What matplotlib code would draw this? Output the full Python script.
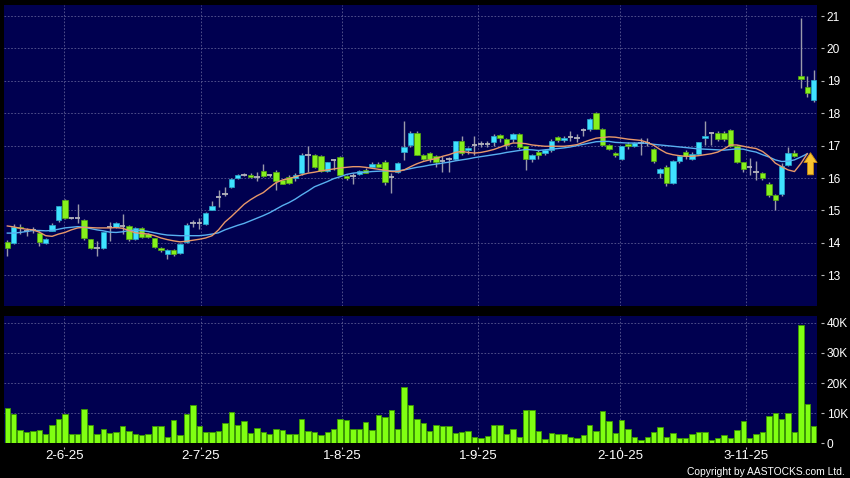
import numpy as np
import matplotlib
matplotlib.use('Agg')
import matplotlib.pyplot as plt

plt.rcParams['font.family'] = ['Liberation Sans', 'DejaVu Sans']

# daily prices (open, high, low, close)
opens = [14.01, 13.99, 14.50, 14.38, 14.40, 14.29, 13.99, 14.38, 14.69, 15.33,
         14.77, 14.77, 14.71, 14.11, 13.85, 13.83, 14.48, 14.48, 14.53, 14.53,
         14.11, 14.46, 14.27, 14.14, 13.85, 13.65, 13.77, 13.70, 14.04, 14.60,
         14.60, 14.58, 15.02, 15.42, 15.52, 15.71, 16.01, 16.10, 16.10, 16.04,
         16.23, 16.08, 16.20, 15.94, 16.02, 16.01, 16.15, 16.70, 16.70, 16.67,
         16.23, 16.56, 16.65, 16.06, 16.05, 16.13, 16.25, 16.35, 16.44, 16.48,
         16.04, 16.20, 16.79, 17.03, 17.38, 16.72, 16.77, 16.67, 16.54, 16.60,
         16.60, 17.14, 16.88, 17.01, 17.04, 17.05, 17.12, 17.32, 17.21, 17.21,
         17.36, 16.98, 16.60, 16.80, 16.77, 16.88, 17.26, 17.17, 17.26, 17.24,
         17.47, 17.52, 18.00, 17.52, 17.03, 16.77, 16.58, 17.06, 17.00, 17.08,
         17.08, 16.90, 16.15, 16.35, 15.85, 16.51, 16.79, 16.60, 16.75, 17.22,
         17.40, 17.40, 17.40, 17.48, 17.00, 16.48, 16.35, 16.20, 16.17, 15.81,
         15.47, 15.50, 16.41, 16.77, 19.15, 18.80, 18.41]
highs = [14.10, 14.58, 14.58, 14.46, 14.48, 14.38, 14.15, 14.60, 15.15, 15.36,
         14.80, 15.21, 14.75, 14.12, 14.06, 14.34, 14.64, 14.65, 14.90, 14.56,
         14.50, 14.50, 14.30, 14.16, 13.88, 13.80, 13.80, 14.00, 14.60, 14.70,
         14.78, 14.95, 15.30, 15.62, 15.73, 16.00, 16.12, 16.15, 16.14, 16.20,
         16.44, 16.12, 16.25, 15.96, 16.08, 16.15, 16.77, 17.00, 16.75, 16.70,
         16.50, 16.58, 16.67, 16.08, 16.15, 16.26, 16.30, 16.50, 16.50, 16.55,
         16.15, 16.50, 17.76, 17.45, 17.45, 16.75, 16.80, 16.72, 16.67, 16.65,
         17.15, 17.30, 16.95, 17.30, 17.15, 17.15, 17.35, 17.35, 17.25, 17.40,
         17.38, 17.00, 16.75, 16.85, 16.90, 17.20, 17.30, 17.30, 17.45, 17.35,
         17.55, 17.85, 18.05, 17.55, 17.05, 16.80, 17.00, 17.10, 17.10, 17.23,
         17.24, 16.92, 16.30, 16.40, 16.55, 16.72, 16.85, 16.80, 17.12, 17.76,
         17.42, 17.45, 17.45, 17.50, 17.02, 16.50, 16.61, 16.51, 16.20, 15.87,
         15.50, 16.45, 16.96, 16.85, 20.95, 19.15, 19.34]
lows = [13.60, 13.95, 14.28, 14.22, 14.30, 13.91, 13.95, 14.35, 14.65, 14.72,
        14.74, 14.60, 14.10, 13.80, 13.60, 13.80, 14.06, 14.45, 14.27, 14.05,
        14.08, 14.15, 14.15, 13.85, 13.72, 13.50, 13.60, 13.65, 14.00, 14.50,
        14.42, 14.55, 15.00, 15.10, 15.45, 15.68, 15.98, 16.05, 16.00, 15.90,
        16.04, 16.04, 15.63, 15.80, 15.80, 15.90, 16.10, 16.20, 16.30, 16.20,
        16.20, 16.25, 16.08, 15.95, 15.83, 16.10, 16.15, 16.33, 16.33, 15.78,
        15.54, 16.15, 16.56, 16.95, 16.70, 16.55, 16.50, 16.35, 16.20, 16.20,
        16.55, 16.70, 16.75, 16.72, 16.95, 16.95, 17.00, 17.10, 16.90, 17.10,
        16.90, 16.25, 16.50, 16.60, 16.70, 16.80, 17.10, 17.10, 17.14, 17.10,
        17.30, 17.45, 17.50, 17.00, 16.85, 16.65, 16.55, 16.90, 16.95, 16.72,
        16.98, 16.45, 16.00, 15.75, 15.80, 16.45, 16.60, 16.55, 16.70, 17.03,
        17.03, 17.15, 17.15, 16.95, 16.45, 16.20, 16.09, 15.94, 15.95, 15.40,
        15.02, 15.45, 16.38, 16.65, 18.77, 18.51, 18.35]
closes = [13.85, 14.48, 14.45, 14.38, 14.40, 14.04, 14.11, 14.56, 15.13, 14.77,
          14.77, 14.77, 14.14, 13.83, 13.85, 14.32, 14.48, 14.60, 14.53, 14.11,
          14.46, 14.17, 14.17, 13.88, 13.77, 13.77, 13.65, 13.96, 14.55, 14.60,
          14.60, 14.92, 15.13, 15.42, 15.52, 15.96, 16.10, 16.10, 16.04, 16.04,
          16.06, 16.08, 15.92, 15.83, 15.85, 16.10, 16.71, 16.70, 16.33, 16.23,
          16.48, 16.56, 16.10, 16.00, 16.05, 16.23, 16.17, 16.44, 16.35, 15.89,
          16.04, 16.46, 16.96, 17.40, 16.72, 16.60, 16.58, 16.48, 16.54, 16.60,
          17.14, 16.77, 16.93, 17.01, 17.04, 17.05, 17.29, 17.22, 17.02, 17.36,
          16.96, 16.60, 16.70, 16.70, 16.88, 17.14, 17.17, 17.24, 17.26, 17.24,
          17.47, 17.81, 17.52, 17.03, 16.90, 16.72, 16.98, 16.98, 17.08, 17.08,
          17.08, 16.54, 16.27, 15.85, 16.51, 16.69, 16.67, 16.74, 17.10, 17.31,
          17.40, 17.21, 17.21, 17.00, 16.49, 16.27, 16.35, 16.20, 15.99, 15.47,
          15.31, 16.38, 16.77, 16.69, 19.07, 18.62, 19.03]

# moving averages as drawn on the chart (short = orange, long = blue)
ma_short = [14.52, 14.49, 14.45, 14.42, 14.40, 14.33, 14.22, 14.20, 14.27, 14.32,
            14.40, 14.46, 14.48, 14.47, 14.46, 14.46, 14.46, 14.47, 14.45, 14.38,
            14.31, 14.29, 14.27, 14.22, 14.15, 14.10, 14.06, 14.03, 14.05, 14.08,
            14.11, 14.15, 14.22, 14.40, 14.64, 14.81, 15.00, 15.19, 15.33, 15.45,
            15.55, 15.71, 15.86, 15.94, 15.98, 16.04, 16.10, 16.15, 16.18, 16.22,
            16.25, 16.28, 16.31, 16.33, 16.35, 16.35, 16.33, 16.30, 16.27, 16.24,
            16.20, 16.20, 16.25, 16.35, 16.44, 16.51, 16.56, 16.60, 16.67, 16.72,
            16.79, 16.82, 16.79, 16.77, 16.79, 16.83, 16.88, 16.95, 17.02, 17.08,
            17.08, 17.06, 17.02, 17.00, 16.98, 16.98, 16.98, 16.98, 17.00, 17.03,
            17.10, 17.17, 17.23, 17.25, 17.27, 17.26, 17.23, 17.20, 17.18, 17.16,
            17.10, 17.01, 16.88, 16.77, 16.72, 16.69, 16.67, 16.67, 16.69, 16.72,
            16.75, 16.80, 16.90, 17.02, 17.02, 16.98, 16.94, 16.91, 16.82, 16.67,
            16.46, 16.35, 16.25, 16.20, 16.45, 16.75, np.nan]
ma_long = [14.30, 14.30, 14.32, 14.35, 14.38, 14.38, 14.37, 14.38, 14.42, 14.46,
           14.48, 14.50, 14.48, 14.44, 14.40, 14.37, 14.33, 14.32, 14.34, 14.38,
           14.39, 14.38, 14.35, 14.31, 14.27, 14.24, 14.23, 14.22, 14.22, 14.22,
           14.22, 14.24, 14.27, 14.31, 14.40, 14.47, 14.54, 14.60, 14.68, 14.76,
           14.84, 14.93, 15.04, 15.15, 15.24, 15.35, 15.48, 15.60, 15.73, 15.81,
           15.89, 15.98, 16.04, 16.11, 16.15, 16.17, 16.18, 16.20, 16.21, 16.22,
           16.22, 16.22, 16.25, 16.29, 16.33, 16.36, 16.40, 16.43, 16.46, 16.49,
           16.53, 16.56, 16.59, 16.63, 16.66, 16.69, 16.72, 16.75, 16.79, 16.82,
           16.85, 16.88, 16.87, 16.85, 16.87, 16.89, 16.91, 16.93, 16.96, 17.00,
           17.04, 17.08, 17.12, 17.13, 17.13, 17.10, 17.09, 17.08, 17.08, 17.08,
           17.07, 17.04, 17.02, 17.00, 16.98, 16.96, 16.94, 16.92, 16.90, 16.89,
           16.88, 16.87, 16.86, 16.88, 16.90, 16.89, 16.84, 16.80, 16.72, 16.65,
           16.56, 16.51, 16.52, 16.56, 16.65, 16.75, np.nan]

# volume in thousands
volume = [11.6, 9.7, 4.3, 3.8, 4.0, 4.3, 3.0, 6.0, 8.0, 9.7,
          3.0, 3.2, 11.3, 6.0, 3.1, 4.6, 3.3, 3.6, 5.7, 4.1,
          3.2, 2.9, 3.0, 5.6, 5.6, 2.2, 7.7, 2.6, 9.7, 12.7,
          5.9, 3.6, 3.6, 4.2, 6.8, 10.3, 6.2, 7.3, 3.3, 5.2,
          3.9, 3.0, 4.8, 4.3, 3.2, 3.0, 7.9, 4.0, 3.7, 2.7,
          3.8, 4.9, 7.9, 7.7, 4.7, 4.7, 6.9, 4.4, 9.3, 8.8,
          10.9, 4.7, 18.6, 12.7, 8.0, 6.7, 4.0, 6.1, 5.8, 5.8,
          3.4, 3.8, 4.0, 2.2, 1.9, 2.3, 6.0, 6.2, 3.0, 4.7,
          2.1, 11.1, 11.1, 4.0, 1.4, 3.4, 3.2, 3.0, 2.1, 1.9,
          2.7, 6.1, 4.0, 10.7, 7.4, 3.4, 7.6, 4.8, 2.1, 1.1,
          2.0, 3.8, 5.3, 2.2, 3.4, 1.8, 1.6, 3.1, 3.6, 3.6,
          1.1, 1.9, 2.7, 1.8, 4.3, 7.3, 1.8, 3.2, 3.9, 8.9,
          10.1, 8.0, 9.9, 3.8, 39.3, 12.9, 5.8]

date_labels = ['2-6-25', '2-7-25', '1-8-25', '1-9-25', '2-10-25', '3-11-25']
date_pos = [8.9, 30.2, 52.3, 73.6, 95.8, 115.5]

price_ticks = list(range(13, 22))
vol_ticks = [0, 10, 20, 30, 40]
vol_labels = ['0', '10K', '20K', '30K', '40K']

o = np.array(opens)
h = np.array(highs)
l = np.array(lows)
c = np.array(closes)
n = len(c)
x = np.arange(n)

navy = '#000050'
gridc = '#5c5c94'
w = 0.82

fig = plt.figure(figsize=(8.5, 4.78), dpi=100, facecolor='black')
ax = fig.add_axes([0.00506, 0.35983, 0.95576, 0.62971], facecolor=navy)
axv = fig.add_axes([0.00506, 0.07259, 0.95576, 0.26528], facecolor=navy)

# candles
up = c > o
down = c < o
flat = c == o
ax.vlines(x, l, h, color='#9a9aaa', lw=1, zorder=2)
ax.bar(x[up], (c - o)[up], bottom=o[up], width=w, color='#3fe2ff',
       edgecolor='#28a8cc', lw=0.5, zorder=3)
ax.bar(x[down], (o - c)[down], bottom=c[down], width=w, color='#86f01c',
       edgecolor='#54a80e', lw=0.5, zorder=3)
ax.hlines(c[flat], x[flat] - w / 2, x[flat] + w / 2, color='#b4b4bc', lw=1.3, zorder=3)

# moving averages
ax.plot(x, ma_long, color='#58b0f0', lw=1, zorder=4)
ax.plot(x, ma_short, color='#e8986a', lw=1, zorder=4)

# arrow at the end of the averages
tip = ma_short[-2]
ax.annotate('', xy=(n - 1.5, tip + 0.03), xytext=(n - 1.5, tip - 0.65),
            arrowprops=dict(arrowstyle='simple,head_length=1.0,head_width=1.35,tail_width=0.6',
                            mutation_scale=7, fc='#f8c430', ec='#c88a10', lw=0.6,
                            shrinkA=0, shrinkB=0), zorder=6)

ax.set_xlim(-0.47, n - 0.53)
ax.set_ylim(12.05, 21.34)
ax.set_yticks(price_ticks)
ax.set_yticklabels([str(t) for t in price_ticks])
ax.set_xticks(date_pos)
ax.grid(True, color=gridc, ls=(0, (2, 2)), lw=0.6)
ax.set_axisbelow(True)

# volume
axv.bar(x, volume, width=w, color='#80ff12', edgecolor='#3c9a00', lw=0.6, zorder=3)
axv.set_xlim(-0.47, n - 0.53)
axv.set_ylim(0, 42.06)
axv.set_yticks(vol_ticks)
axv.set_yticklabels(vol_labels)
axv.set_xticks(date_pos)
axv.set_xticklabels(date_labels)
axv.grid(True, color=gridc, ls=(0, (2, 2)), lw=0.6)
axv.set_axisbelow(True)

for a in (ax, axv):
    for s in ('top', 'left', 'bottom'):
        a.spines[s].set_visible(False)
    a.spines['right'].set_color('none')
    a.spines['right'].set_position(('outward', 2.9))
    a.yaxis.tick_right()
    a.tick_params(axis='y', length=1.9, width=0.8, color='#b8b8b8',
                  labelcolor='white', labelsize=8.6, pad=2.4)

ax.tick_params(axis='x', length=0, labelbottom=False)
axv.spines['bottom'].set_visible(True)
axv.spines['bottom'].set_color('none')
axv.spines['bottom'].set_position(('outward', 2.4))
axv.tick_params(axis='x', length=1.7, width=0.8, color='#b8b8b8',
                labelcolor='white', labelsize=9.5, pad=1)

fig.text(845 / 850, 1 - 471.7 / 478, 'Copyright by AASTOCKS.com Ltd.',
         ha='right', va='center', color='white', fontsize=7.4)

fig.savefig('out.png', dpi=100, facecolor='black')
